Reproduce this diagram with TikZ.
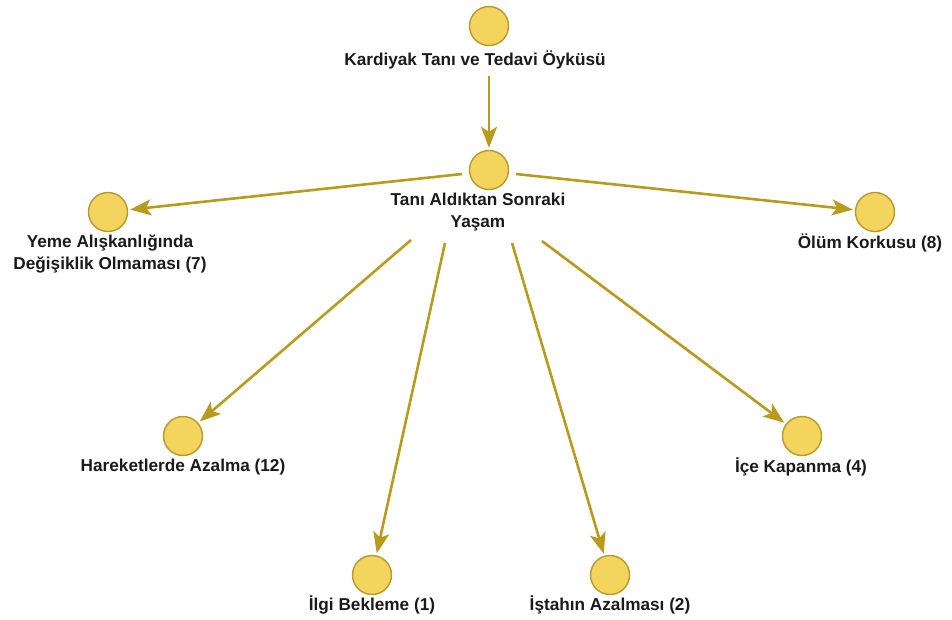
\documentclass[tikz,border=0pt]{standalone}
\usepackage{fontspec}
\setmainfont{Liberation Sans}
\usetikzlibrary{arrows.meta}
\definecolor{dotfill}{HTML}{F3D55E}
\definecolor{dotedge}{HTML}{B8992A}
\definecolor{linkcol}{HTML}{B89B1C}
\definecolor{txt}{HTML}{1A1A1A}
\begin{document}
\begin{tikzpicture}[x=1pt,y=-1pt,
  dot/.style={circle,fill=dotfill,draw=dotedge,line width=1.4pt,minimum size=39pt,inner sep=0pt},
  lbl/.style={font=\fontsize{17.2}{22}\selectfont\bfseries,text=txt,align=center,inner sep=0pt},
  link/.style={draw=linkcol,line width=2.6pt,-{Stealth[length=21pt,width=16pt,inset=5pt]},shorten >=2pt}]
\useasboundingbox (0,0) rectangle (952,619);
% theme nodes
\node[dot] (c0) at (489,26) {};
\node[dot] (c1) at (489,170) {};
\node[dot] (c2) at (108,212) {};
\node[dot] (c3) at (875,212) {};
\node[dot] (c4) at (183,436) {};
\node[dot] (c5) at (372,575) {};
\node[dot] (c6) at (610,575) {};
\node[dot] (c7) at (802,436) {};
% labels
\node[lbl] (l0) at (475,60) {Kardiyak Tanı ve Tedavi Öyküsü};
\node[lbl] (l1) at (478,212.5) {Tanı Aldıktan Sonraki\\Yaşam};
\node[lbl] (l2) at (110,254) {Yeme Alışkanlığında\\Değişiklik Olmaması (7)};
\node[lbl] (l3) at (870,243) {Ölüm Korkusu (8)};
\node[lbl] (l4) at (183,467) {Hareketlerde Azalma (12)};
\node[lbl] (l5) at (372,605) {İlgi Bekleme (1)};
\node[lbl] (l6) at (610,605) {İştahın Azalması (2)};
\node[lbl] (l7) at (801,467) {İçe Kapanma (4)};
% connector start points
\coordinate (s0) at (489,76);
\coordinate (s2) at (462,174);
\coordinate (s3) at (516,174);
\coordinate (s4) at (411,240);
\coordinate (s5) at (445,243);
\coordinate (s6) at (512,243);
\coordinate (s7) at (542,241);
% connectors
\draw[link] (s0) -- (c1);
\draw[link] (s2) -- (c2);
\draw[link] (s3) -- (c3);
\draw[link] (s4) -- (c4);
\draw[link] (s5) -- (c5);
\draw[link] (s6) -- (c6);
\draw[link] (s7) -- (c7);
\end{tikzpicture}
\end{document}
